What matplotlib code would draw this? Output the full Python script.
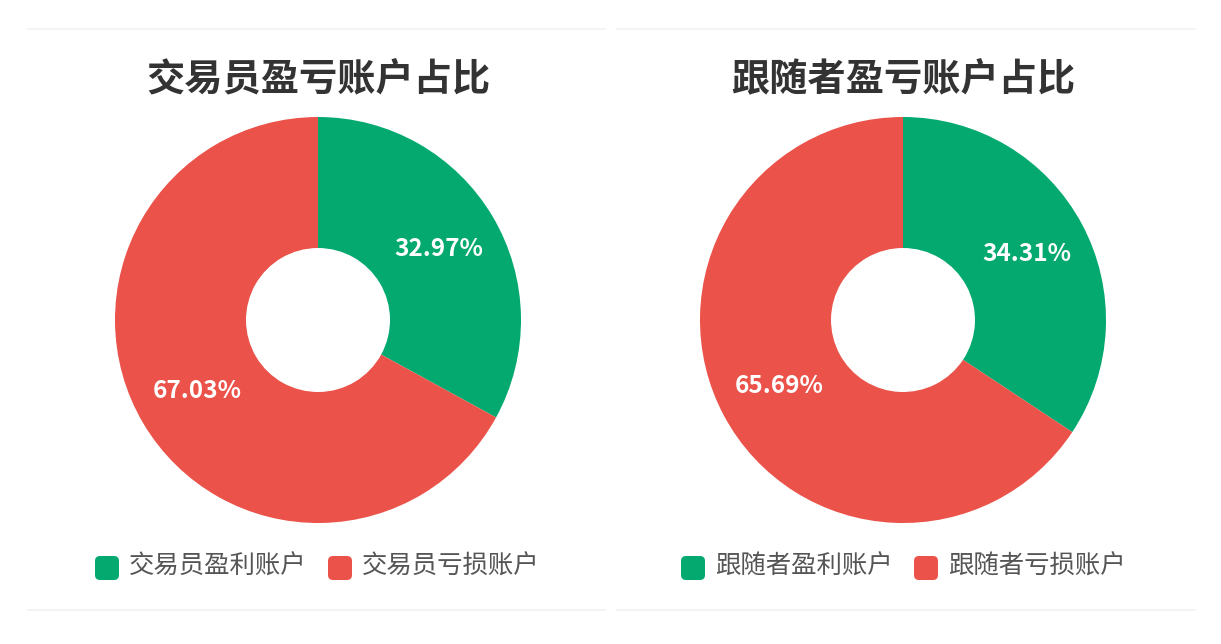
import matplotlib
matplotlib.use("Agg")
import matplotlib.pyplot as plt
from matplotlib.patches import FancyBboxPatch

plt.rcParams['font.family'] = ['Noto Sans CJK SC', 'DejaVu Sans']

titles = ["交易员盈亏账户占比", "跟随者盈亏账户占比"]
labels_left = ["交易员盈利账户", "交易员亏损账户"]
labels_right = ["跟随者盈利账户", "跟随者亏损账户"]
values_left = [32.97, 67.03]
values_right = [34.31, 65.69]
colors = ["#03A96E", "#EB5249"]

W, H = 1221, 644
fig = plt.figure(figsize=(W / 100, H / 100), dpi=100)
ax = fig.add_axes([0, 0, 1, 1])

panels = [
    dict(cx=318, title=titles[0], labels=labels_left, values=values_left,
         lx=[95, 328], x0=28, x1=605),
    dict(cx=903, title=titles[1], labels=labels_right, values=values_right,
         lx=[681, 914], x0=617, x1=1195),
]

R_OUT, R_IN = 203, 72
cy = H - 320

for p in panels:
    wedges, texts, autotexts = ax.pie(
        p["values"], colors=colors, startangle=90, counterclock=False,
        center=(p["cx"], cy), radius=R_OUT,
        wedgeprops=dict(width=R_OUT - R_IN, linewidth=0),
        autopct='%.2f%%', pctdistance=0.69,
        textprops=dict(color='white', fontsize=17.5, fontweight='semibold'))
    ax.text(p["cx"], H - 80, p["title"], ha='center', va='center',
            fontsize=27.5, fontweight='bold', color='#333333')
    for i, (lab, lx) in enumerate(zip(p["labels"], p["lx"])):
        box = FancyBboxPatch((lx, H - 580), 24, 24,
                             boxstyle="round,pad=0,rounding_size=5",
                             facecolor=colors[i], edgecolor='none')
        ax.add_patch(box)
        ax.text(lx + 34, H - 567, lab, ha='left', va='center',
                fontsize=18.3, color='#555555')
    for yy in (29, 610):
        ax.plot([p["x0"], p["x1"]], [H - yy, H - yy], color='#F2F2F2', lw=1.2)

ax.set_xlim(0, W)
ax.set_ylim(0, H)
ax.set_aspect('equal')
ax.axis('off')
fig.savefig("out.png", dpi=100, facecolor='white')
